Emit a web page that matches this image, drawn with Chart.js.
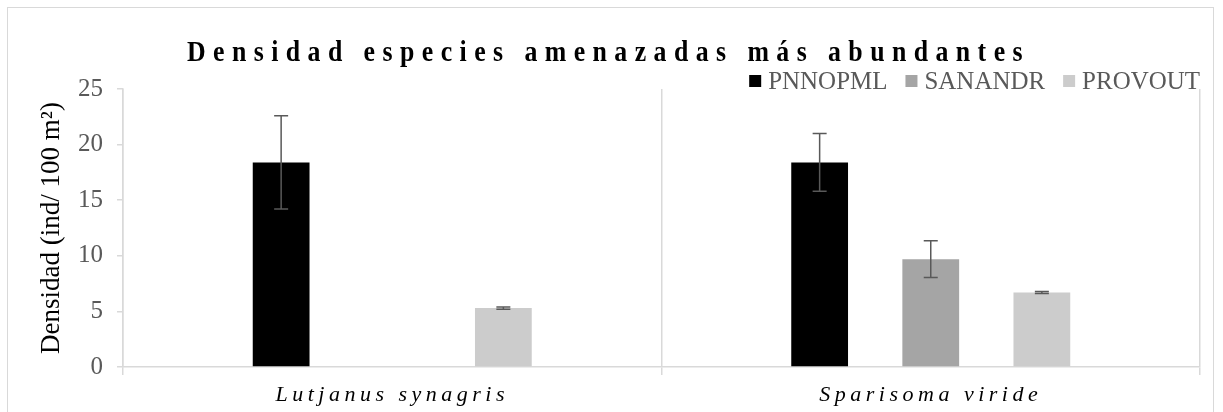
<!DOCTYPE html>
<html>
<head>
<meta charset="utf-8">
<script src="https://cdn.jsdelivr.net/npm/chart.js@4.4.1/dist/chart.umd.min.js"></script>
<style>
  html, body { margin: 0; padding: 0; background: #fff; }
  #wrap { position: relative; width: 1223px; height: 412px; }
  #frame { position: absolute; left: 7px; top: 7px; width: 1207px; height: 420px;
           border: 1px solid #d9d9d9; box-sizing: border-box; pointer-events: none; }
</style>
</head>
<body>
<div id="wrap">
  <canvas id="chart" width="1223" height="412"></canvas>
  <div id="frame"></div>
</div>
<script>
// Data
const species = ['Lutjanus synagris', 'Sparisoma viride'];
const sites = ['PNNOPML', 'SANANDR', 'PROVOUT'];
const pnnopml = [18.4, 18.4];
const sanandr = [null, 9.7];
const provout = [5.3, 6.7];
const errPnnopml = [4.2, 2.6];
const errSanandr = [null, 1.65];
const errProvout = [0.1, 0.1];
const yTicks = [0, 5, 10, 15, 20, 25];

const SERIF = '"Liberation Serif", "Times New Roman", serif';
const colors = ['#000000', '#a5a5a5', '#cccccc'];
const TITLE = 'Densidad especies amenazadas más abundantes';

// Category axis whose labels are drawn with letter spacing (like the Excel original)
class SpacedCategoryScale extends Chart.CategoryScale {
  draw(area) {
    const c = this.ctx;
    c.save();
    c.letterSpacing = '4.5px';
    super.draw(area);
    c.restore();
  }
}
SpacedCategoryScale.id = 'spacedCategory';
SpacedCategoryScale.defaults = Chart.CategoryScale.defaults;
Chart.register(SpacedCategoryScale);

// Plugin: vertical error bars with caps
const errorBarPlugin = {
  id: 'errorBars',
  afterDatasetsDraw(ch) {
    const { ctx: c, scales: { y } } = ch;
    c.save();
    c.strokeStyle = '#595959';
    c.lineWidth = 1.5;
    ch.data.datasets.forEach((ds, di) => {
      const meta = ch.getDatasetMeta(di);
      meta.data.forEach((bar, i) => {
        const v = ds.data[i], e = ds.errors[i];
        if (v == null || e == null) return;
        const x = bar.x;
        const yTop = y.getPixelForValue(v + e);
        const yBot = y.getPixelForValue(v - e);
        c.beginPath();
        c.moveTo(x, yTop); c.lineTo(x, yBot);
        c.moveTo(x - 7, yTop); c.lineTo(x + 7, yTop);
        c.moveTo(x - 7, yBot); c.lineTo(x + 7, yBot);
        c.stroke();
      });
    });
    c.restore();
  },
};

// Plugin: letter-spaced, slightly condensed bold title + legend in the top right
const headerPlugin = {
  id: 'header',
  afterDraw(ch) {
    const c = ch.ctx;
    const area = ch.chartArea;

    // title
    c.save();
    c.font = 'bold 30px ' + SERIF;
    const sx = 0.86;
    const plain = c.measureText(TITLE).width;
    const spacing = (843 / sx - plain) / TITLE.length;
    c.letterSpacing = spacing + 'px';
    c.fillStyle = '#000';
    c.textAlign = 'left';
    c.textBaseline = 'alphabetic';
    c.translate(187, 61);
    c.scale(sx, 1);
    c.fillText(TITLE, 0, 0);
    c.restore();

    // legend, right aligned to the plot area
    c.save();
    c.font = '26px ' + SERIF;
    c.textBaseline = 'middle';
    c.textAlign = 'left';
    const box = 12, gap = 7, itemGap = 18, yMid = 81;
    const widths = sites.map(s => c.measureText(s).width * 0.96);
    const total = widths.reduce((a, w) => a + box + gap + w, 0) + itemGap * (sites.length - 1);
    let x = area.right - total;
    sites.forEach((s, i) => {
      c.fillStyle = colors[i];
      c.fillRect(x, yMid - box / 2, box, box);
      c.fillStyle = '#595959';
      c.fillText(s, x + box + gap, yMid + 1, widths[i]);
      x += box + gap + widths[i] + itemGap;
    });
    c.restore();
  },
};

new Chart(document.getElementById('chart'), {
  type: 'bar',
  plugins: [errorBarPlugin, headerPlugin],
  data: {
    labels: species,
    datasets: [
      { label: sites[0], data: pnnopml, errors: errPnnopml, backgroundColor: colors[0] },
      { label: sites[1], data: sanandr, errors: errSanandr, backgroundColor: colors[1] },
      { label: sites[2], data: provout, errors: errProvout, backgroundColor: colors[2] },
    ],
  },
  options: {
    responsive: false,
    animation: false,
    devicePixelRatio: 1,
    layout: { padding: { top: 89, right: 23, bottom: 0, left: 0 } },
    datasets: { bar: { categoryPercentage: 0.619, barPercentage: 0.511 } },
    plugins: {
      legend: { display: false },
      tooltip: { enabled: false },
    },
    scales: {
      x: {
        type: 'spacedCategory',
        afterFit: s => { s.height = 45; },
        grid: {
          offset: true,
          drawOnChartArea: true,
          color: '#d9d9d9',
          tickLength: 8,
          lineWidth: 1.5,
        },
        border: { color: '#d9d9d9', width: 1.5 },
        ticks: {
          color: '#000',
          font: { family: SERIF, size: 22, style: 'italic' },
          padding: 7,
        },
      },
      y: {
        min: 0,
        max: 25,
        afterBuildTicks: s => { s.ticks = yTicks.map(v => ({ value: v })); },
        afterFit: s => { s.width = 123; },
        grid: { drawOnChartArea: false, color: '#d9d9d9', tickLength: 6, lineWidth: 1.5 },
        border: { color: '#d9d9d9', width: 1.5 },
        ticks: {
          color: '#595959',
          font: { family: SERIF, size: 25 },
          padding: 14,
        },
        title: {
          display: true,
          text: 'Densidad (ind/ 100 m²)',
          color: '#000',
          font: { family: SERIF, size: 27 },
          padding: { top: 36 },
        },
      },
    },
  },
});
</script>
</body>
</html>
